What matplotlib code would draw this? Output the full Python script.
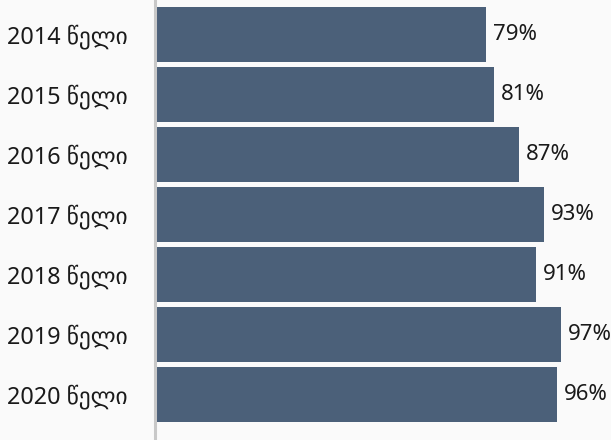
import matplotlib.pyplot as plt

years = ["2014 წელი", "2015 წელი", "2016 წელი", "2017 წელი",
         "2018 წელი", "2019 წელი", "2020 წელი"]
values = [79, 81, 87, 93, 91, 97, 96]

plt.rcParams['font.family'] = ['Noto Sans', 'DejaVu Sans']

fig = plt.figure(figsize=(6.11, 4.40), dpi=100, facecolor="#fafafa")
ax = fig.add_axes([156 / 611, 0, 1 - 156 / 611, 1])
ax.set_facecolor("#fafafa")

pos = list(range(len(years)))
ax.barh(pos, values, height=0.917, color="#4b6079")

for p, v in zip(pos, values):
    ax.annotate(f"{v}%", xy=(v, p), xytext=(5, 0), textcoords="offset points",
                ha="left", va="center", fontsize=16, color="#1a1a1a")

ax.set_xlim(0, 109)
ax.set_ylim(6.758, -0.575)
ax.set_yticks(pos)
ax.set_yticklabels(years)
ax.tick_params(axis="y", length=0, pad=19.5, labelsize=16.8, labelcolor="#1a1a1a")
ax.set_xticks([])

for s in ["top", "right", "bottom"]:
    ax.spines[s].set_visible(False)
ax.spines["left"].set_color("#c8c8c8")
ax.spines["left"].set_linewidth(2.2)
ax.spines["left"].set_position(("data", -0.3))

fig.savefig("out.png", dpi=100, facecolor=fig.get_facecolor())
